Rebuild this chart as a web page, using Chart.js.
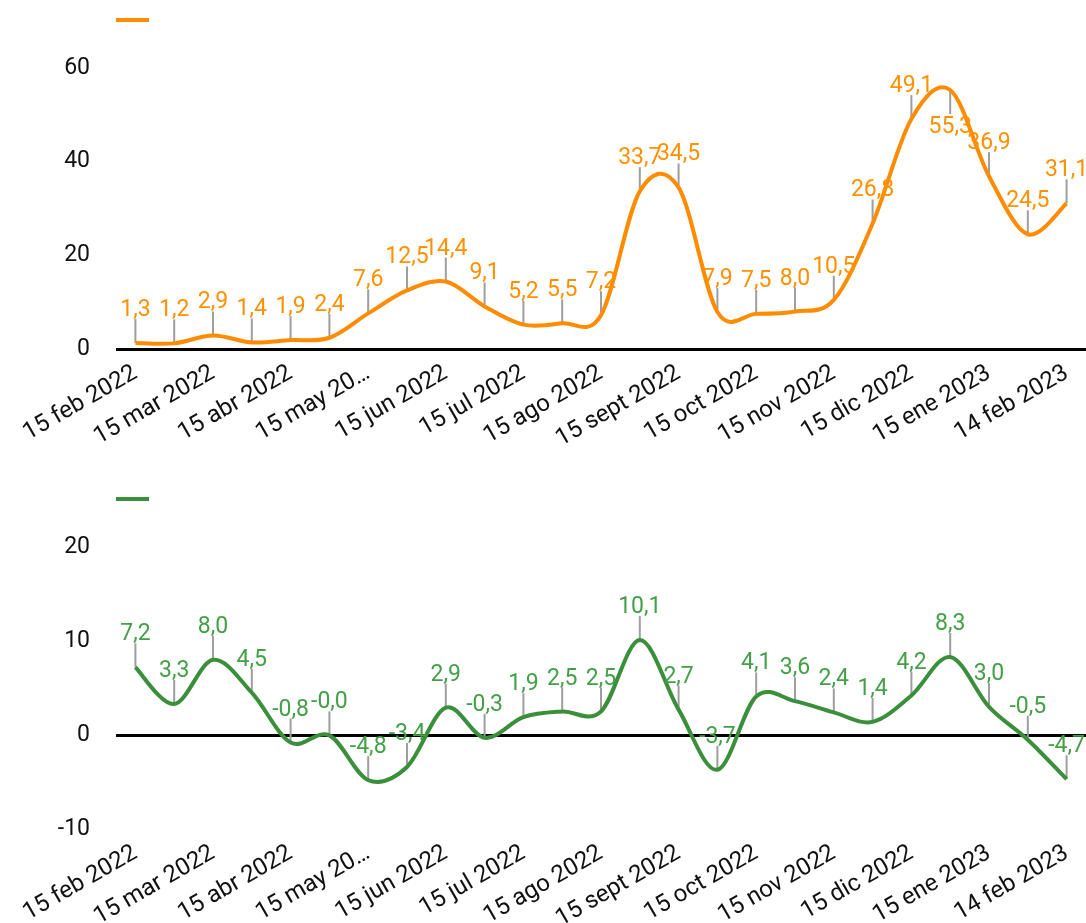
<!DOCTYPE html>
<html>
<head>
<meta charset="utf-8">
<script src="https://cdn.jsdelivr.net/npm/chart.js@4"></script>
<style>
  html, body { margin: 0; padding: 0; background: #fff; }
  canvas { display: block; }
</style>
</head>
<body>
<canvas id="topChart" width="1086" height="460"></canvas>
<canvas id="bottomChart" width="1086" height="463"></canvas>
<script>
// biweekly points, only every other one gets a tick label
const categories = [
  '15 feb 2022', '', '15 mar 2022', '', '15 abr 2022', '', '15 may 20…', '',
  '15 jun 2022', '', '15 jul 2022', '', '15 ago 2022', '', '15 sept 2022', '',
  '15 oct 2022', '', '15 nov 2022', '', '15 dic 2022', '', '15 ene 2023', '',
  '14 feb 2023'
];

const topValues = [
  1.3, 1.2, 2.9, 1.4, 1.9, 2.4, 7.6, 12.5, 14.4, 9.1, 5.2, 5.5, 7.2,
  33.7, 34.5, 7.9, 7.5, 8.0, 10.5, 26.8, 49.1, 55.3, 36.9, 24.5, 31.1
];

const bottomValues = [
  7.2, 3.3, 8.0, 4.5, -0.8, -0.04, -4.8, -3.4, 2.9, -0.3, 1.9, 2.5, 2.5,
  10.1, 2.7, -3.7, 4.1, 3.6, 2.4, 1.4, 4.2, 8.3, 3.0, -0.5, -4.7
];

const topTicks = [0, 20, 40, 60];
const bottomTicks = [-10, 0, 10, 20];

Chart.defaults.font.family = 'Roboto';

// plain catmull-rom smoothing (like the spreadsheet), set on chart.js's own points
const catmullRom = {
  id: 'catmullRom',
  beforeDatasetDraw(chart, args) {
    const line = args.meta.dataset;
    const pts = args.meta.data;
    line.updateControlPoints(chart.chartArea);
    const n = pts.length;
    for (let i = 0; i < n; i++) {
      const prev = pts[Math.max(i - 1, 0)];
      const next = pts[Math.min(i + 1, n - 1)];
      const dx = (next.x - prev.x) / 6;
      const dy = (next.y - prev.y) / 6;
      pts[i].cp1x = pts[i].x - dx;
      pts[i].cp1y = pts[i].y - dy;
      pts[i].cp2x = pts[i].x + dx;
      pts[i].cp2y = pts[i].y + dy;
    }
  }
};

// value labels on little grey stalks, plus the short legend key
const valueLabels = {
  id: 'valueLabels',
  beforeDatasetsDraw(chart, args, opts) {
    const { ctx, chartArea } = chart;
    const meta = chart.getDatasetMeta(0);
    ctx.save();
    // legend key
    ctx.fillStyle = opts.lineColor;
    ctx.fillRect(chartArea.left, chartArea.top - 50, 33, 4);
    ctx.strokeStyle = '#9e9e9e';
    ctx.lineWidth = 2;
    meta.data.forEach(pt => {
      const dir = pt.y - 44 < chartArea.top ? 1 : -1;
      ctx.beginPath();
      ctx.moveTo(pt.x, pt.y);
      ctx.lineTo(pt.x, pt.y + dir * 24);
      ctx.stroke();
    });
    ctx.restore();
  },
  afterDatasetsDraw(chart, args, opts) {
    const { ctx, chartArea } = chart;
    const meta = chart.getDatasetMeta(0);
    const data = chart.data.datasets[0].data;
    ctx.save();
    ctx.font = '23px Roboto';
    ctx.fillStyle = opts.textColor;
    ctx.textAlign = 'center';
    meta.data.forEach((pt, i) => {
      const text = data[i].toFixed(1).replace('.', ',');
      if (pt.y - 44 < chartArea.top) {
        ctx.textBaseline = 'top';
        ctx.fillText(text, pt.x, pt.y + 26);
      } else {
        ctx.textBaseline = 'alphabetic';
        ctx.fillText(text, pt.x, pt.y - 27);
      }
    });
    ctx.restore();
  }
};

function makeChart(id, values, lineColor, textColor, yMin, yMax, step, areaTop, xHeight) {
  return new Chart(document.getElementById(id), {
    type: 'line',
    data: {
      labels: categories,
      datasets: [{
        data: values,
        borderColor: lineColor,
        backgroundColor: lineColor,
        borderWidth: 4,
        pointRadius: 0,
        tension: 0.4,
        fill: false
      }]
    },
    options: {
      responsive: false,
      animation: false,
      layout: { padding: { top: areaTop, right: 0, left: 0, bottom: 0 } },
      plugins: {
        legend: { display: false },
        tooltip: { enabled: false },
        valueLabels: { lineColor: lineColor, textColor: textColor }
      },
      scales: {
        x: {
          offset: true,
          grid: { display: false },
          border: { display: false },
          afterFit: axis => { axis.height = xHeight; },
          ticks: {
            autoSkip: false,
            maxRotation: 30,
            minRotation: 30,
            padding: 2,
            color: '#111',
            font: { size: 24 }
          }
        },
        y: {
          min: yMin,
          max: yMax,
          border: { display: false },
          afterFit: axis => { axis.width = 116; },
          grid: {
            drawTicks: false,
            lineWidth: 3,
            color: c => c.tick.value === 0 ? '#000' : 'rgba(0,0,0,0)'
          },
          ticks: {
            stepSize: step,
            padding: 26,
            color: '#111',
            font: { size: 23 }
          }
        }
      }
    },
    plugins: [catmullRom, valueLabels]
  });
}

makeChart('topChart', topValues, '#ff8c00', '#ff9100',
  topTicks[0], topTicks[topTicks.length - 1], 20, 68, 111);
makeChart('bottomChart', bottomValues, '#3a8f3a', '#43a047',
  bottomTicks[0], bottomTicks[bottomTicks.length - 1], 10, 87, 94);
</script>
</body>
</html>
